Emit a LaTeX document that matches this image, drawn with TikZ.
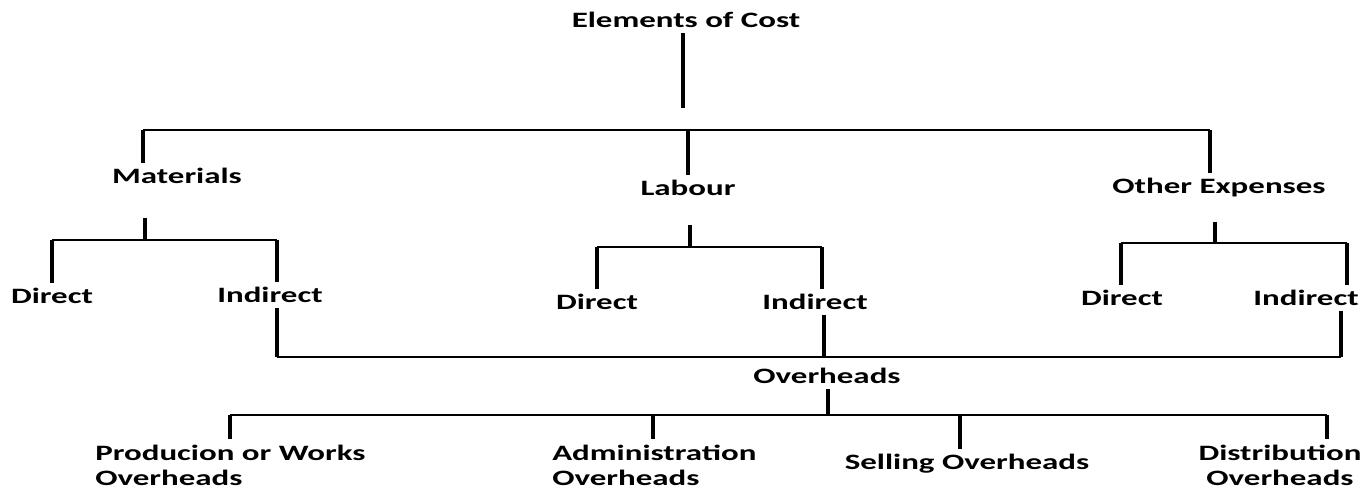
\documentclass[tikz,border=0pt]{standalone}
\usepackage{fontspec}
\newfontfamily\costfont{Carlito}[FakeStretch=1.5]
\usetikzlibrary{positioning}

\begin{document}
\begin{tikzpicture}[x=0.02cm, y=-0.02cm,
		lbl/.style={font=\costfont\bfseries\fontsize{12.5}{14.2}\selectfont, inner sep=0pt, outer sep=3pt},
		twolines/.style={lbl, align=left, anchor=west},
		vline/.style={line width=2.2pt},
		hline/.style={line width=1.5pt}]
		\useasboundingbox (0,0) rectangle (1363,491);
		% labels
		\node[lbl] (cost) at (686,20) {Elements of Cost};
		\node[lbl] (mat) at (177,176) {Materials};
		\node[lbl] (lab) at (688,188) {Labour};
		\node[lbl] (oth) at (1219,188) {Other Expenses};
		\node[lbl] (mdir) at (52,296) {Direct};
		\node[lbl] (mind) at (270,295) {Indirect};
		\node[lbl] (ldir) at (597,302) {Direct};
		\node[lbl] (lind) at (815,302) {Indirect};
		\node[lbl] (odir) at (1122,298) {Direct};
		\node[lbl] (oind) at (1306,298) {Indirect};
		\node[lbl] (ovh) at (827,376) {Overheads};
		\node[twolines] (prod) at (90,465) {Producion or Works\\Overheads};
		\node[twolines] (adm) at (547,465) {Administration\\Overheads};
		\node[lbl] (sell) at (967,464) {Selling Overheads};
		\node[lbl, align=center] (dist) at (1280,465) {Distribution\\Overheads};
		% junctions
		\coordinate (c0) at (683,108);
		\coordinate (bl) at (143,130);
		\coordinate (bm) at (688,130);
		\coordinate (br) at (1210,130);
		\coordinate (mt) at (145,218);
		\coordinate (mj) at (145,240);
		\coordinate (ml) at (52,240);
		\coordinate (mr) at (277,240);
		\coordinate (lt) at (690,225);
		\coordinate (lj) at (690,247);
		\coordinate (ll) at (597,247);
		\coordinate (lr) at (822,247);
		\coordinate (ot) at (1215,222);
		\coordinate (oj) at (1215,243);
		\coordinate (ol) at (1121,243);
		\coordinate (or) at (1347,243);
		\coordinate (il) at (277,357);
		\coordinate (im) at (824,357);
		\coordinate (ir) at (1341,357);
		\coordinate (vj) at (828,415);
		\coordinate (v1) at (230,415);
		\coordinate (v2) at (653,415);
		\coordinate (v3) at (960,415);
		\coordinate (v4) at (1327,415);
		% top level
		\draw[vline] (cost.south -| c0) -- (c0);
		\draw[hline] (bl) -- (br);
		\draw[vline] (bl) -- (bl |- mat.north);
		\draw[vline] (bm) -- (bm |- lab.north);
		\draw[vline] (br) -- (br |- oth.north);
		% materials
		\draw[vline] (mt) -- (mj);
		\draw[hline] (ml) -- (mr);
		\draw[vline] (ml) -- (ml |- mdir.north);
		\draw[vline] (mr) -- (mr |- mind.north);
		% labour
		\draw[vline] (lt) -- (lj);
		\draw[hline] (ll) -- (lr);
		\draw[vline] (ll) -- (ll |- ldir.north);
		\draw[vline] (lr) -- (lr |- lind.north);
		% other expenses
		\draw[vline] (ot) -- (oj);
		\draw[hline] (ol) -- (or);
		\draw[vline] (ol) -- (ol |- odir.north);
		\draw[vline] (or) -- (or |- oind.north);
		% indirect to overheads
		\draw[vline] (mind.south -| il) -- (il);
		\draw[vline] (lind.south -| im) -- (im);
		\draw[vline] (oind.south -| ir) -- (ir);
		\draw[hline] (il) -- (ir);
		% overheads
		\draw[vline] (ovh.south -| vj) -- (vj);
		\draw[hline] (v1) -- (v4);
		\draw[vline] (v1) -- (v1 |- prod.north);
		\draw[vline] (v2) -- (v2 |- adm.north);
		\draw[vline] (v3) -- (v3 |- sell.north);
		\draw[vline] (v4) -- (v4 |- dist.north);
\end{tikzpicture}
\end{document}
